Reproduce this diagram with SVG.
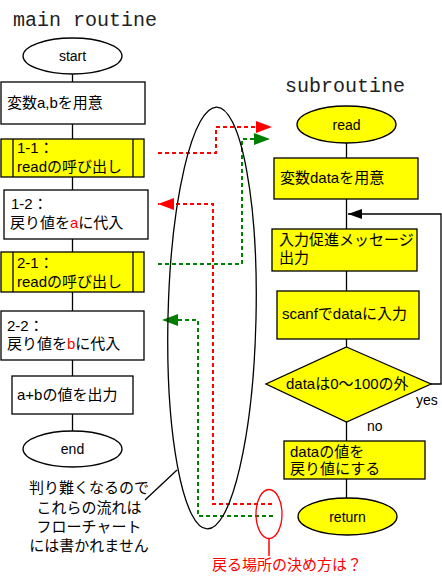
<svg xmlns="http://www.w3.org/2000/svg" width="442" height="577" viewBox="0 0 442 577">
<style>
.t{font-family:"Liberation Sans","Noto Sans CJK JP",sans-serif;font-size:15px;fill:#000}
.s{font-family:"Liberation Sans","Noto Sans CJK JP",sans-serif;font-size:14px;fill:#000}
.title{font-family:"Liberation Mono",monospace;font-size:20px;fill:#222}
.box{fill:#fff;stroke:#000;stroke-width:1.3}
.yb{fill:#ffff00;stroke:#000;stroke-width:1.3}
.ln{stroke:#000;stroke-width:1.3;fill:none}
.rd{stroke:#ff0000;stroke-width:2;stroke-dasharray:4 3;fill:none}
.gd{stroke:#008000;stroke-width:2;stroke-dasharray:4 3;fill:none}
.red{fill:#ff0000}
</style>
<defs>
<marker id="ar" markerWidth="8" markerHeight="6" refX="8" refY="3" orient="auto" markerUnits="strokeWidth"><path d="M0,0 L8,3 L0,6 Z" fill="#ff0000"/></marker>
<marker id="ag" markerWidth="8" markerHeight="6" refX="8" refY="3" orient="auto" markerUnits="strokeWidth"><path d="M0,0 L8,3 L0,6 Z" fill="#008000"/></marker>
<marker id="abk" markerWidth="14" markerHeight="10" refX="14" refY="5" orient="auto" markerUnits="userSpaceOnUse"><path d="M0,0 L14,5 L0,10 Z" fill="#000"/></marker>
</defs>

<text class="title" x="13" y="26">main routine</text>
<text class="title" x="285" y="92">subroutine</text>

<g id="connectors">
<line class="ln" x1="72.5" y1="74" x2="72.5" y2="431"/>
<line class="ln" x1="346.5" y1="143" x2="346.5" y2="498"/>
<polyline class="ln" points="431,384 441,384 441,214 348,214" marker-end="url(#abk)"/>
<polyline class="rd" points="158,153 216,153 216,127 272,127" marker-end="url(#ar)"/>
<polyline class="gd" points="158,264 242,264 242,139 270,139" marker-end="url(#ag)"/>
<polyline class="rd" points="272,504 213,504 213,204 158,204" marker-end="url(#ar)"/>
<polyline class="gd" points="273,516 198,516 198,320 162,320" marker-end="url(#ag)"/>
</g>

<g id="start"><ellipse class="box" cx="72.5" cy="56" rx="49.5" ry="18"/><text class="s" x="72.5" y="61" text-anchor="middle">start</text></g>
<g id="m1"><rect class="box" x="1" y="82" width="144" height="42"/><text class="t" x="7" y="108">変数a,bを用意</text></g>
<g id="m2"><rect class="yb" x="1" y="139" width="143" height="38"/><line class="ln" x1="13" y1="139" x2="13" y2="177"/><line class="ln" x1="133" y1="139" x2="133" y2="177"/><text class="t" x="17" y="153">1-1：</text><text class="t" x="17" y="172">readの呼び出し</text></g>
<g id="m3"><rect class="box" x="4" y="190" width="144" height="49"/><text class="t" x="11" y="209">1-2：</text><text class="t" x="10" y="228">戻り値を<tspan class="red">a</tspan>に代入</text></g>
<g id="m4"><rect class="yb" x="1" y="252" width="143" height="40"/><line class="ln" x1="13" y1="252" x2="13" y2="292"/><line class="ln" x1="133" y1="252" x2="133" y2="292"/><text class="t" x="17" y="268">2-1：</text><text class="t" x="17" y="287">readの呼び出し</text></g>
<g id="m5"><rect class="box" x="1" y="311" width="143" height="49"/><text class="t" x="7" y="331">2-2：</text><text class="t" x="7" y="349">戻り値を<tspan class="red">b</tspan>に代入</text></g>
<g id="m6"><rect class="box" x="12" y="376" width="121" height="38"/><text class="t" x="17" y="400">a+bの値を出力</text></g>
<g id="end"><ellipse class="box" cx="72.5" cy="449" rx="49.5" ry="18"/><text class="s" x="72.5" y="454" text-anchor="middle">end</text></g>

<g id="note">
<ellipse class="ln" cx="212" cy="318" rx="44" ry="211" transform="rotate(1.3 212 318)"/>
<line class="ln" x1="145" y1="500" x2="177" y2="470" stroke-width="1"/>
<text class="t" text-anchor="middle"><tspan x="89" y="493">判り難くなるので</tspan><tspan x="89" y="513">これらの流れは</tspan><tspan x="89" y="532">フローチャート</tspan><tspan x="89" y="551">には書かれません</tspan></text>
</g>

<g id="question">
<ellipse cx="269" cy="514" rx="13" ry="24.5" fill="none" stroke="#ff0000" stroke-width="1.3"/>
<line x1="269" y1="539" x2="269" y2="556" stroke="#ff0000" stroke-width="1.5"/>
<text class="t red" x="287" y="570" text-anchor="middle">戻る場所の決め方は？</text>
</g>

<g id="read"><ellipse class="yb" cx="346.5" cy="124.5" rx="49.5" ry="18.5"/><text class="s" x="346.5" y="129.5" text-anchor="middle">read</text></g>
<g id="s1"><rect class="yb" x="274" y="158" width="144" height="41"/><text class="t" x="280" y="183">変数dataを用意</text></g>
<g id="s2"><rect class="yb" x="272" y="229" width="145" height="42"/><text class="t" x="279" y="245">入力促進メッセージ</text><text class="t" x="279" y="263">出力</text></g>
<g id="s3"><rect class="yb" x="277" y="291" width="142" height="48"/><text class="t" x="282" y="319">scanfでdataに入力</text></g>
<g id="s4"><polygon class="yb" points="346.5,347 431,384 346.5,422 266,384"/><text class="t" x="286" y="389">dataは0～100の外</text></g>
<text class="s" x="416" y="405">yes</text>
<text class="s" x="367" y="431">no</text>
<g id="s5"><rect class="yb" x="284" y="441" width="141" height="38"/><text class="t" x="290" y="457">dataの値を</text><text class="t" x="290" y="474">戻り値にする</text></g>
<g id="ret"><ellipse class="yb" cx="347.5" cy="516.5" rx="49.5" ry="18.5"/><text class="s" x="347.5" y="521.5" text-anchor="middle">return</text></g>
</svg>
